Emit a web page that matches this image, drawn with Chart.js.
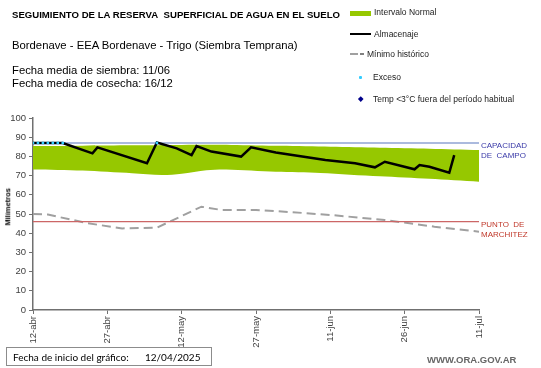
<!DOCTYPE html>
<html>
<head>
<meta charset="utf-8">
<script src="https://cdn.jsdelivr.net/npm/chart.js@4.4.1/dist/chart.umd.min.js"></script>
<style>
  body { margin: 0; background: #fff; }
  #wrap { position: relative; width: 541px; height: 368px; overflow: hidden; font-family: "Liberation Sans", Arial, sans-serif; }
  #chart { position: absolute; left: 0; top: 0; }
  .t { position: absolute; white-space: nowrap; line-height: 1; color: #000; }
  .leg { font-size: 8.5px; color: #222; }
</style>
</head>
<body>
<div id="wrap">
  <canvas id="chart" width="541" height="368"></canvas>

  <div class="t" style="left:12px;top:10px;font-size:9.6px;font-weight:bold;">SEGUIMIENTO DE LA RESERVA&nbsp; SUPERFICIAL DE AGUA EN EL SUELO</div>
  <div class="t" style="left:12px;top:40px;font-size:11.3px;">Bordenave - EEA Bordenave - Trigo (Siembra Temprana)</div>
  <div class="t" style="left:12px;top:65px;font-size:11.3px;">Fecha media de siembra: 11/06</div>
  <div class="t" style="left:12px;top:78px;font-size:11.3px;">Fecha media de cosecha: 16/12</div>

  <!-- leyenda -->
  <div style="position:absolute;left:350px;top:11px;width:21px;height:5px;background:#96c800;"></div>
  <div class="t leg" style="left:374px;top:8px;">Intervalo Normal</div>
  <div style="position:absolute;left:350px;top:33px;width:21px;height:2px;background:#000;"></div>
  <div class="t leg" style="left:374px;top:30px;">Almacenaje</div>
  <div style="position:absolute;left:350px;top:53px;width:8px;height:1.5px;background:#a0a0a0;"></div>
  <div style="position:absolute;left:360px;top:53px;width:4px;height:1.5px;background:#808080;"></div>
  <div class="t leg" style="left:367px;top:50px;">Mínimo histórico</div>
  <div style="position:absolute;left:359px;top:76px;width:3px;height:3px;background:#33ccff;border-radius:1px;"></div>
  <div class="t leg" style="left:373px;top:73px;">Exceso</div>
  <div style="position:absolute;left:359px;top:97px;width:3.5px;height:3.5px;background:#00008b;transform:rotate(45deg);"></div>
  <div class="t leg" style="left:373px;top:95px;">Temp &lt;3°C fuera del período habitual</div>

  <!-- etiquetas de referencia -->
  <div class="t" style="left:481px;top:141px;font-size:8px;color:#3a3aa8;line-height:9.5px;">CAPACIDAD<br>DE&nbsp; CAMPO</div>
  <div class="t" style="left:481px;top:220px;font-size:8px;color:#c0392b;line-height:9.5px;">PUNTO&nbsp; DE<br>MARCHITEZ</div>

  <div class="t" style="left:-12px;top:203px;font-size:7.5px;font-weight:bold;transform:rotate(-90deg);width:40px;text-align:center;">Milímetros</div>

  <div style="position:absolute;left:6px;top:347px;width:206px;height:19px;border:1px solid #8c8c8c;box-sizing:border-box;"></div>
  <div class="t" style="left:13px;top:352px;font-size:10px;font-family:Lato,sans-serif;">Fecha de inicio del gráfico:</div>
  <div class="t" style="left:145px;top:352px;font-size:10px;font-family:Lato,sans-serif;">12/04/2025</div>

  <div class="t" style="left:427px;top:355px;font-size:9.5px;font-weight:bold;color:#666;">WWW.ORA.GOV.AR</div>
</div>

<script>
// dias desde el 12-abr
const tickLabels = ["12-abr", "27-abr", "12-may", "27-may", "11-jun", "26-jun", "11-jul"];

const almDias = [0, 6, 12, 13, 23, 25, 29, 32, 33, 36, 42, 44, 49, 59, 65, 69, 71, 77, 78, 80, 84, 85];
const almValores = [87, 87, 81.6, 84.7, 76.4, 87.2, 84.2, 80.7, 85.4, 82.5, 79.9, 84.7, 82, 78.1, 76.4, 74.3, 77.2, 73.3, 75.5, 74.6, 71.5, 80.7];

const excesoDias = [0, 1, 2, 3, 4, 5, 6, 25];
const excesoValores = [87, 87, 87, 87, 87, 87, 87, 87];

const supDias = [0, 10, 20, 30, 40, 50, 60, 70, 80, 90];
const supValores = [85.4, 85.6, 85.8, 86, 86, 85.5, 85, 84.5, 84, 83.3];
const infDias = [0, 10, 20, 26, 30, 35, 39, 49, 58, 70, 80, 90];
const infValores = [73.2, 72.6, 71.2, 70.3, 71, 72.8, 73.2, 72, 71.4, 69.6, 68.3, 66.8];

const minDias = [0, 3, 11, 18, 25, 34, 38, 45, 52, 60, 71, 81, 90];
const minValores = [50, 49.7, 45.2, 42.5, 42.9, 53.8, 52.1, 52.1, 51, 49.5, 46.9, 43.4, 40.8];

const capacidadCampo = 87;
const puntoMarchitez = 46;
const diaFinal = 90;

function pts(xs, ys) {
    return xs.map((x, i) => ({ x: x, y: ys[i] }));
}

const axisColor = "#707070";
const tickFont = { family: "Liberation Sans, Arial, sans-serif", size: 9.5 };

new Chart(document.getElementById("chart"), {
    type: "line",
    data: {
        datasets: [
            {
                label: "Intervalo Normal",
                data: pts(supDias, supValores),
                borderWidth: 0,
                pointRadius: 0,
                backgroundColor: "#96c800",
                fill: 1,
                tension: 0.3,
                order: 10
            },
            {
                label: "inferior",
                data: pts(infDias, infValores),
                borderWidth: 0,
                pointRadius: 0,
                fill: false,
                tension: 0.3,
                order: 11
            },
            {
                label: "Mínimo histórico",
                data: pts(minDias, minValores),
                borderColor: "#a0a0a0",
                borderWidth: 2,
                borderDash: [9, 5],
                pointRadius: 0,
                fill: false,
                order: 8
            },
            {
                label: "Capacidad de campo",
                data: [{ x: 0, y: capacidadCampo }, { x: diaFinal, y: capacidadCampo }],
                borderColor: "#8fa3d3",
                borderWidth: 1.5,
                pointRadius: 0,
                order: 7
            },
            {
                label: "Punto de marchitez",
                data: [{ x: 0, y: puntoMarchitez }, { x: diaFinal, y: puntoMarchitez }],
                borderColor: "#cc6666",
                borderWidth: 1.3,
                pointRadius: 0,
                order: 6
            },
            {
                label: "Almacenaje",
                data: pts(almDias, almValores),
                borderColor: "#000",
                borderWidth: 2.5,
                pointRadius: 0,
                order: 2
            },
            {
                label: "Exceso",
                data: pts(excesoDias, excesoValores),
                showLine: false,
                pointStyle: "rect",
                pointRadius: 1.8,
                pointBorderWidth: 0,
                pointBackgroundColor: "#33ccff",
                order: 1
            }
        ]
    },
    options: {
        responsive: false,
        animation: false,
        layout: { padding: { left: 0, top: 118, right: 62, bottom: 0 } },
        plugins: { legend: { display: false }, tooltip: { enabled: false } },
        scales: {
            x: {
                type: "linear",
                min: 0,
                max: diaFinal,
                afterFit: (s) => { s.height = 58; },
                ticks: {
                    stepSize: 15,
                    autoSkip: false,
                    maxRotation: 90,
                    minRotation: 90,
                    padding: 2,
                    color: "#404040",
                    font: tickFont,
                    callback: (v) => tickLabels[v / 15]
                },
                grid: { drawOnChartArea: false, drawTicks: true, tickLength: 4, color: axisColor },
                border: { color: axisColor, width: 1.5 }
            },
            y: {
                min: 0,
                max: 100,
                afterFit: (s) => { s.width = 33; },
                ticks: { stepSize: 10, padding: 3, color: "#404040", font: tickFont },
                grid: { drawOnChartArea: false, drawTicks: true, tickLength: 4, color: axisColor },
                border: { color: axisColor, width: 1.5 }
            }
        }
    }
});
</script>
</body>
</html>
